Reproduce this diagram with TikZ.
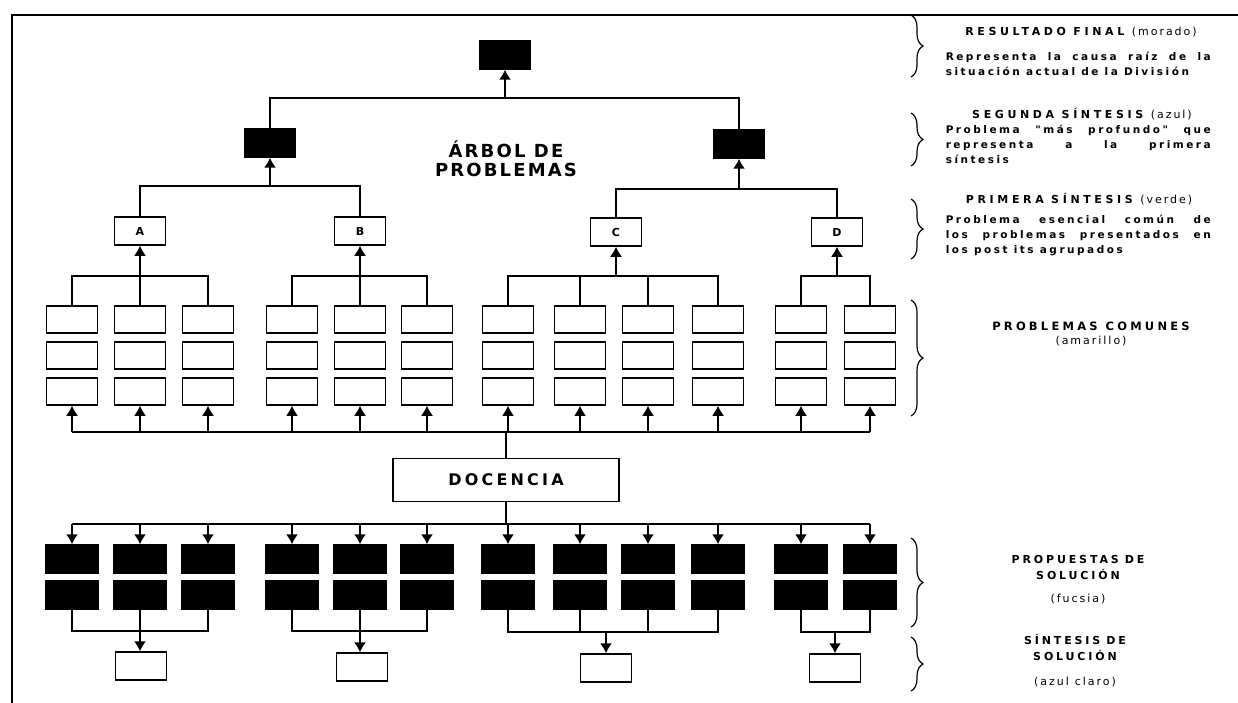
\documentclass[tikz,border=0pt]{standalone}
\usepackage{fontspec}
\setmainfont{DejaVu Sans}
\newfontfamily\spaced[LetterSpace=12]{DejaVu Sans}
\newfontfamily\headfont[LetterSpace=33]{DejaVu Sans}
\newfontfamily\sidefont[LetterSpace=26]{DejaVu Sans}
\newfontfamily\widefont[LetterSpace=28]{DejaVu Sans}
\newfontfamily\descfont[LetterSpace=24]{DejaVu Sans}
\newfontfamily\parenfont[LetterSpace=18]{DejaVu Sans}
\newfontfamily\wide[LetterSpace=20]{DejaVu Sans}
\newcommand{\gap}{\hspace{6pt}}
\usetikzlibrary{arrows.meta}
\usetikzlibrary{decorations.pathreplacing}

\begin{document}
\begin{tikzpicture}[x=1pt,y=-1pt,line width=1.5pt,
  blank/.style={draw,fill=white,minimum width=51pt,minimum height=27pt,inner sep=0pt,
    font=\spaced\bfseries\fontsize{11}{11}\selectfont},
  dark/.style={draw,fill=black,minimum width=53pt,minimum height=28pt,inner sep=0pt},
  arr/.style={-{Latex[length=10pt,width=12pt]}},
  brc/.style={decorate,decoration={brace,amplitude=12pt},line width=1.2pt},
  head/.style={anchor=base,inner sep=0pt,font=\headfont\bfseries\fontsize{11}{12}\selectfont},
  desc/.style={anchor=base west,inner sep=0pt,text width=265pt,align=justify,
    font=\descfont\bfseries\fontsize{10.5}{15}\selectfont},
  side/.style={anchor=base,inner sep=0pt,text width=250pt,align=center,
    font=\sidefont\bfseries\fontsize{11}{16}\selectfont}]

\useasboundingbox (0,0) rectangle (1238,703);
\fill[white] (0,0) rectangle (1238,703);

% frame
\draw[line width=1.2pt] (12,703) -- (12,15) -- (1238,15);

% arbol de problemas
\node[dark,minimum width=51pt] (rf) at (505,55) {};
\node[dark,minimum width=50pt] (sl) at (270,143) {};
\node[dark,minimum width=50pt] (sr) at (739,144) {};
\node[font=\spaced\bfseries\fontsize{18}{19}\selectfont,align=center] (title) at (506,159) {ÁRBOL DE\\PROBLEMAS};

\node[blank,minimum height=28pt] (A) at (140,231) {A};
\node[blank,minimum height=28pt] (B) at (360,231) {B};
\node[blank,minimum height=28pt] (C) at (616,232) {C};
\node[blank,minimum height=28pt] (D) at (837,232) {D};

\coordinate (j0) at (505,98);
\coordinate (j1) at (270,186);
\coordinate (j2) at (739,189);
\draw (sl) |- (j0) -| (sr);
\draw[arr] (j0) -- (rf);
\draw (A) |- (j1) -| (B);
\draw[arr] (j1) -- (sl);
\draw (C) |- (j2) -| (D);
\draw[arr] (j2) -- (sr);

% problemas comunes y propuestas
\foreach \i/\x in {1/72,2/140,3/208,4/292,5/360,6/427,7/508,8/580,9/648,10/718,11/801,12/870}{
  \node[blank] (p\i a) at (\x,319.5) {};
  \node[blank] (p\i b) at (\x,355.5) {};
  \node[blank] (p\i c) at (\x,391.5) {};
  \node[dark] (s\i a) at (\x,559) {};
  \node[dark] (s\i b) at (\x,595) {};
  \coordinate (u\i) at (\x,432);
  \coordinate (d\i) at (\x,524);
  \draw[arr] (u\i) -- (p\i c);
  \draw[arr] (d\i) -- (s\i a);
}

\node[blank,minimum width=226pt,minimum height=43pt,font=\wide\bfseries\fontsize{16}{16}\selectfont] (doc) at (506,480) {DOCENCIA};
\coordinate (ub) at (506,432);
\coordinate (db) at (506,524);
\draw (u1) -- (u12);
\draw (d1) -- (d12);
\draw (doc) -- (ub);
\draw (doc) -- (db);

% grupos hacia A B C D
\coordinate (ga) at (140,276);
\coordinate (gb) at (360,276);
\coordinate (gc) at (616,276);
\coordinate (gd) at (837,276);
\draw (p1a) |- (ga) -| (p3a);
\draw (p2a) -- (ga);
\draw[arr] (ga) -- (A);
\draw (p4a) |- (gb) -| (p6a);
\draw (p5a) -- (gb);
\draw[arr] (gb) -- (B);
\draw (p7a) |- (gc) -| (p10a);
\draw (p8a) -- (p8a.north |- gc);
\draw (p9a) -- (p9a.north |- gc);
\draw[arr] (gc) -- (C);
\draw (p11a) |- (gd) -| (p12a);
\draw[arr] (gd) -- (D);

% sintesis de solucion
\node[blank,minimum height=28pt] (r1) at (141,666) {};
\node[blank,minimum height=28pt] (r2) at (362,667) {};
\node[blank,minimum height=28pt] (r3) at (606,668) {};
\node[blank,minimum height=28pt] (r4) at (835,668) {};
\coordinate (ha) at (140,631);
\coordinate (hb) at (360,631);
\coordinate (hc) at (606,632);
\coordinate (hd) at (835,632);
\draw (s1b) |- (ha) -| (s3b);
\draw[arr] (s2b) -- (s2b.south |- r1.north);
\draw (s4b) |- (hb) -| (s6b);
\draw[arr] (s5b) -- (s5b.south |- r2.north);
\draw (s7b) |- (hc) -| (s10b);
\draw (s8b) -- (s8b.south |- hc);
\draw (s9b) -- (s9b.south |- hc);
\draw[arr] (hc) -- (r3);
\draw (s11b) |- (hd) -| (s12b);
\draw[arr] (hd) -- (r4);

% llaves
\draw[brc] (911,15) -- (911,77);
\draw[brc] (911,113) -- (911,166);
\draw[brc] (911,199) -- (911,259);
\draw[brc] (911,300) -- (911,416);
\draw[brc] (911,538) -- (911,627);
\draw[brc] (911,637) -- (911,691);

% textos
\node[head] (h1) at (1081,36) {RESULTADO FINAL {\parenfont\mdseries(morado)}};
\node[desc] (t1) at (945,61) {\parfillskip=0pt Representa la causa raíz de la\linebreak situación actual de la División};
\node[head] (h2) at (1082,119) {SEGUNDA SÍNTESIS {\parenfont\mdseries(azul)}};
\node[desc] (t2) at (945,134) {Problema "más profundo" que\linebreak representa a la primera\linebreak síntesis};
\node[head] (h3) at (1079,204) {PRIMERA SÍNTESIS {\parenfont\mdseries(verde)}};
\node[desc] (t3) at (945,224) {Problema esencial común de\linebreak los problemas presentados en\linebreak los post its agrupados};
\node[side,font=\widefont\bfseries\fontsize{11.5}{16}\selectfont] (t4) at (1091,330) {PROBLEMAS\hspace{8pt}COMUNES\\[-2pt]{\parenfont\mdseries\fontsize{11}{16}\selectfont(amarillo)}};
\node[side] (t5) at (1078,563) {PROPUESTAS\gap DE\\SOLUCIÓN\\[7pt]{\parenfont\mdseries(fucsia)}};
\node[side] (t6) at (1075,644) {SÍNTESIS\gap DE\\SOLUCIÓN\\[9pt]{\parenfont\mdseries(azul\gap claro)}};

\end{tikzpicture}
\end{document}
